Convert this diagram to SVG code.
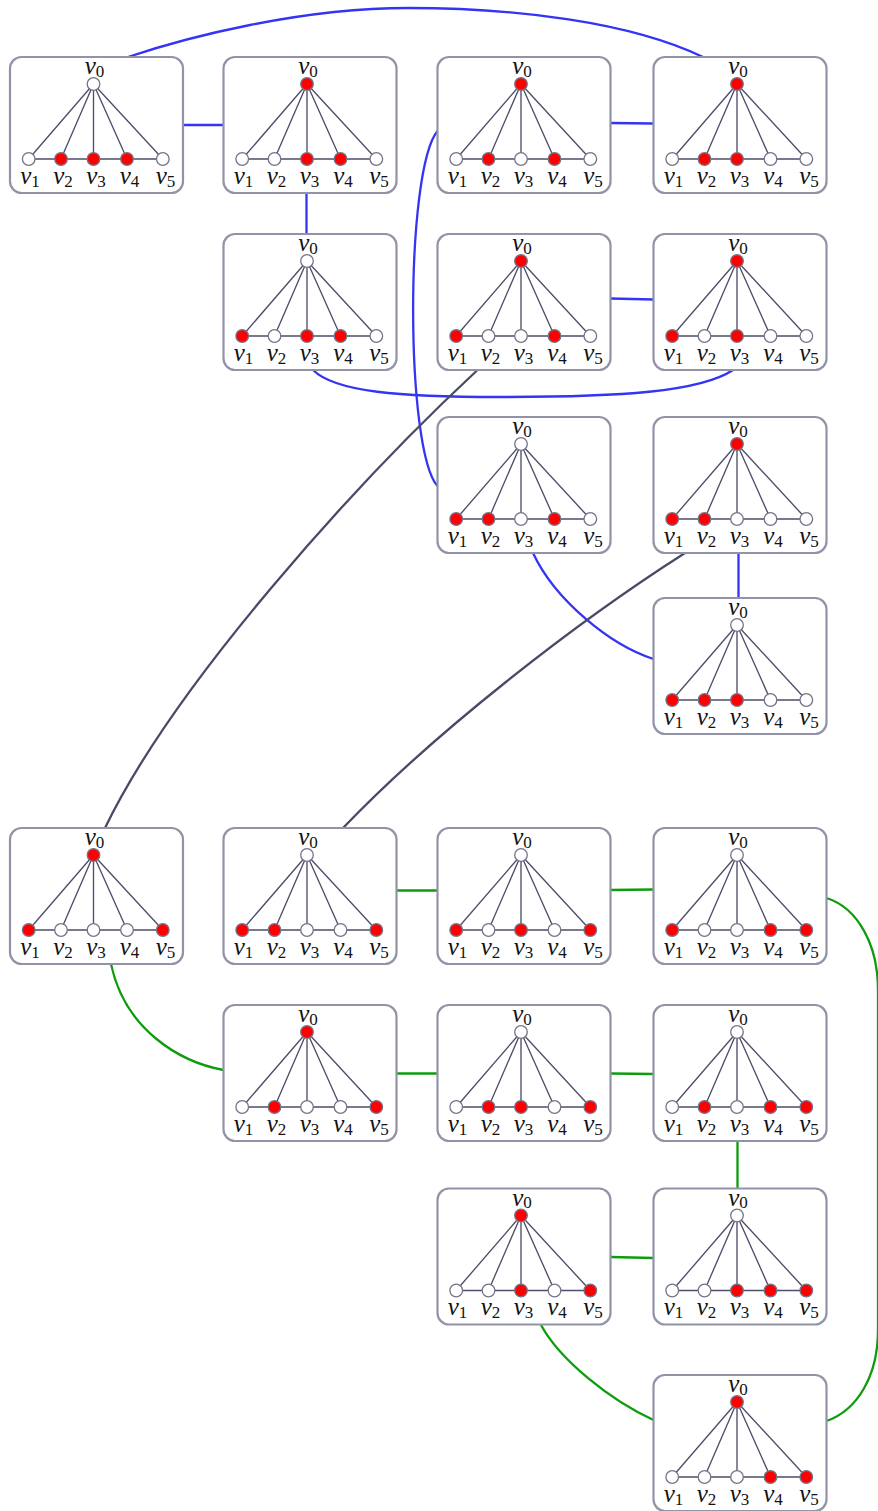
<svg xmlns="http://www.w3.org/2000/svg" xmlns:xlink="http://www.w3.org/1999/xlink" width="878" height="1511" viewBox="0 0 878 1511">
<style>
.box{fill:#fff;stroke:#9393a8;stroke-width:2.2}
.e{stroke:#4e4e6a;stroke-width:1.35;fill:none}
.w{fill:#fff;stroke:#74748a;stroke-width:1.3}
.r{fill:#ff0000;stroke:#74748a;stroke-width:1.3}
.l{font-family:"Liberation Serif","DejaVu Serif",serif;font-style:italic;font-size:25px;fill:#111;text-anchor:middle}
.s{font-style:normal;font-size:17px}
.blue{stroke:#3434f4;stroke-width:2.3;fill:none}
.dark{stroke:#4a4a68;stroke-width:2.3;fill:none}
.green{stroke:#0c9c0c;stroke-width:2.3;fill:none}
</style>
<defs>
<g id="frame">
<rect class="box" x="0" y="0" width="173" height="136" rx="11.5"/>
<path class="e" d="M83.5,27L18.7,102M83.5,27L51,102M83.5,27L83.5,102M83.5,27L117,102M83.5,27L152.8,102M18.7,102H152.8"/>
</g>
</defs>
<rect width="878" height="1511" fill="#fff"/>
<g id="connectors">
<path class="blue" d="M128,57C188,37 300,8 408,8S630,22 703,57"/>
<path class="blue" d="M183,125L223.5,125"/>
<path class="blue" d="M306.5,193L306.5,234"/>
<path class="blue" d="M610.5,123L653.5,123.5"/>
<path class="blue" d="M437.5,131C405,170 405,450 437.5,486"/>
<path class="blue" d="M610.5,298.5L653.5,299.5"/>
<path class="blue" d="M313,370C335,392 400,397 500,397C620,397 700,392 733,370"/>
<path class="blue" d="M533,553C555,600 610,645 653.5,659"/>
<path class="blue" d="M738.5,553L738.5,598"/>
<path class="dark" d="M477,370.5C357,482 175,683 105,828"/>
<path class="dark" d="M685,553C575,623 433,734 343,828"/>
<path class="green" d="M111,964C125,1030 180,1062 223.5,1070"/>
<path class="green" d="M396.5,890.5L437.5,890.5"/>
<path class="green" d="M610.5,890L653.5,889.5"/>
<path class="green" d="M826.5,898C858,908 878,945 878,990L878,1330C878,1375 858,1410 826.5,1421"/>
<path class="green" d="M396.5,1073.5L437.5,1073.5"/>
<path class="green" d="M610.5,1073.5L653.5,1074"/>
<path class="green" d="M737.5,1141L737.5,1188.5"/>
<path class="green" d="M610.5,1257L653.5,1258"/>
<path class="green" d="M541,1325C560,1360 610,1400 653.5,1420"/>
</g>

<g id="nA" transform="translate(10,57)"><use xlink:href="#frame"/>
<circle class="w" cx="83.5" cy="27" r="6.3"/><circle class="w" cx="18.7" cy="102" r="6.3"/><circle class="r" cx="51" cy="102" r="6.3"/><circle class="r" cx="83.5" cy="102" r="6.3"/><circle class="r" cx="117" cy="102" r="6.3"/><circle class="w" cx="152.8" cy="102" r="6.3"/>
<text class="l" x="84.5" y="17">v<tspan class="s" dy="2.5">0</tspan></text><text class="l" x="20" y="126.5">v<tspan class="s" dy="3">1</tspan></text><text class="l" x="53" y="126.5">v<tspan class="s" dy="3">2</tspan></text><text class="l" x="86" y="126.5">v<tspan class="s" dy="3">3</tspan></text><text class="l" x="119.5" y="126.5">v<tspan class="s" dy="3">4</tspan></text><text class="l" x="155.5" y="126.5">v<tspan class="s" dy="3">5</tspan></text></g>

<g id="nB" transform="translate(223.5,57)"><use xlink:href="#frame"/>
<circle class="r" cx="83.5" cy="27" r="6.3"/><circle class="w" cx="18.7" cy="102" r="6.3"/><circle class="w" cx="51" cy="102" r="6.3"/><circle class="r" cx="83.5" cy="102" r="6.3"/><circle class="r" cx="117" cy="102" r="6.3"/><circle class="w" cx="152.8" cy="102" r="6.3"/>
<text class="l" x="84.5" y="17">v<tspan class="s" dy="2.5">0</tspan></text><text class="l" x="20" y="126.5">v<tspan class="s" dy="3">1</tspan></text><text class="l" x="53" y="126.5">v<tspan class="s" dy="3">2</tspan></text><text class="l" x="86" y="126.5">v<tspan class="s" dy="3">3</tspan></text><text class="l" x="119.5" y="126.5">v<tspan class="s" dy="3">4</tspan></text><text class="l" x="155.5" y="126.5">v<tspan class="s" dy="3">5</tspan></text></g>

<g id="nC" transform="translate(437.5,57)"><use xlink:href="#frame"/>
<circle class="r" cx="83.5" cy="27" r="6.3"/><circle class="w" cx="18.7" cy="102" r="6.3"/><circle class="r" cx="51" cy="102" r="6.3"/><circle class="w" cx="83.5" cy="102" r="6.3"/><circle class="r" cx="117" cy="102" r="6.3"/><circle class="w" cx="152.8" cy="102" r="6.3"/>
<text class="l" x="84.5" y="17">v<tspan class="s" dy="2.5">0</tspan></text><text class="l" x="20" y="126.5">v<tspan class="s" dy="3">1</tspan></text><text class="l" x="53" y="126.5">v<tspan class="s" dy="3">2</tspan></text><text class="l" x="86" y="126.5">v<tspan class="s" dy="3">3</tspan></text><text class="l" x="119.5" y="126.5">v<tspan class="s" dy="3">4</tspan></text><text class="l" x="155.5" y="126.5">v<tspan class="s" dy="3">5</tspan></text></g>

<g id="nD" transform="translate(653.5,57)"><use xlink:href="#frame"/>
<circle class="r" cx="83.5" cy="27" r="6.3"/><circle class="w" cx="18.7" cy="102" r="6.3"/><circle class="r" cx="51" cy="102" r="6.3"/><circle class="r" cx="83.5" cy="102" r="6.3"/><circle class="w" cx="117" cy="102" r="6.3"/><circle class="w" cx="152.8" cy="102" r="6.3"/>
<text class="l" x="84.5" y="17">v<tspan class="s" dy="2.5">0</tspan></text><text class="l" x="20" y="126.5">v<tspan class="s" dy="3">1</tspan></text><text class="l" x="53" y="126.5">v<tspan class="s" dy="3">2</tspan></text><text class="l" x="86" y="126.5">v<tspan class="s" dy="3">3</tspan></text><text class="l" x="119.5" y="126.5">v<tspan class="s" dy="3">4</tspan></text><text class="l" x="155.5" y="126.5">v<tspan class="s" dy="3">5</tspan></text></g>

<g id="nE" transform="translate(223.5,234)"><use xlink:href="#frame"/>
<circle class="w" cx="83.5" cy="27" r="6.3"/><circle class="r" cx="18.7" cy="102" r="6.3"/><circle class="w" cx="51" cy="102" r="6.3"/><circle class="r" cx="83.5" cy="102" r="6.3"/><circle class="r" cx="117" cy="102" r="6.3"/><circle class="w" cx="152.8" cy="102" r="6.3"/>
<text class="l" x="84.5" y="17">v<tspan class="s" dy="2.5">0</tspan></text><text class="l" x="20" y="126.5">v<tspan class="s" dy="3">1</tspan></text><text class="l" x="53" y="126.5">v<tspan class="s" dy="3">2</tspan></text><text class="l" x="86" y="126.5">v<tspan class="s" dy="3">3</tspan></text><text class="l" x="119.5" y="126.5">v<tspan class="s" dy="3">4</tspan></text><text class="l" x="155.5" y="126.5">v<tspan class="s" dy="3">5</tspan></text></g>

<g id="nF" transform="translate(437.5,234)"><use xlink:href="#frame"/>
<circle class="r" cx="83.5" cy="27" r="6.3"/><circle class="r" cx="18.7" cy="102" r="6.3"/><circle class="w" cx="51" cy="102" r="6.3"/><circle class="w" cx="83.5" cy="102" r="6.3"/><circle class="r" cx="117" cy="102" r="6.3"/><circle class="w" cx="152.8" cy="102" r="6.3"/>
<text class="l" x="84.5" y="17">v<tspan class="s" dy="2.5">0</tspan></text><text class="l" x="20" y="126.5">v<tspan class="s" dy="3">1</tspan></text><text class="l" x="53" y="126.5">v<tspan class="s" dy="3">2</tspan></text><text class="l" x="86" y="126.5">v<tspan class="s" dy="3">3</tspan></text><text class="l" x="119.5" y="126.5">v<tspan class="s" dy="3">4</tspan></text><text class="l" x="155.5" y="126.5">v<tspan class="s" dy="3">5</tspan></text></g>

<g id="nG" transform="translate(653.5,234)"><use xlink:href="#frame"/>
<circle class="r" cx="83.5" cy="27" r="6.3"/><circle class="r" cx="18.7" cy="102" r="6.3"/><circle class="w" cx="51" cy="102" r="6.3"/><circle class="r" cx="83.5" cy="102" r="6.3"/><circle class="w" cx="117" cy="102" r="6.3"/><circle class="w" cx="152.8" cy="102" r="6.3"/>
<text class="l" x="84.5" y="17">v<tspan class="s" dy="2.5">0</tspan></text><text class="l" x="20" y="126.5">v<tspan class="s" dy="3">1</tspan></text><text class="l" x="53" y="126.5">v<tspan class="s" dy="3">2</tspan></text><text class="l" x="86" y="126.5">v<tspan class="s" dy="3">3</tspan></text><text class="l" x="119.5" y="126.5">v<tspan class="s" dy="3">4</tspan></text><text class="l" x="155.5" y="126.5">v<tspan class="s" dy="3">5</tspan></text></g>

<g id="nH" transform="translate(437.5,417)"><use xlink:href="#frame"/>
<circle class="w" cx="83.5" cy="27" r="6.3"/><circle class="r" cx="18.7" cy="102" r="6.3"/><circle class="r" cx="51" cy="102" r="6.3"/><circle class="w" cx="83.5" cy="102" r="6.3"/><circle class="r" cx="117" cy="102" r="6.3"/><circle class="w" cx="152.8" cy="102" r="6.3"/>
<text class="l" x="84.5" y="17">v<tspan class="s" dy="2.5">0</tspan></text><text class="l" x="20" y="126.5">v<tspan class="s" dy="3">1</tspan></text><text class="l" x="53" y="126.5">v<tspan class="s" dy="3">2</tspan></text><text class="l" x="86" y="126.5">v<tspan class="s" dy="3">3</tspan></text><text class="l" x="119.5" y="126.5">v<tspan class="s" dy="3">4</tspan></text><text class="l" x="155.5" y="126.5">v<tspan class="s" dy="3">5</tspan></text></g>

<g id="nI" transform="translate(653.5,417)"><use xlink:href="#frame"/>
<circle class="r" cx="83.5" cy="27" r="6.3"/><circle class="r" cx="18.7" cy="102" r="6.3"/><circle class="r" cx="51" cy="102" r="6.3"/><circle class="w" cx="83.5" cy="102" r="6.3"/><circle class="w" cx="117" cy="102" r="6.3"/><circle class="w" cx="152.8" cy="102" r="6.3"/>
<text class="l" x="84.5" y="17">v<tspan class="s" dy="2.5">0</tspan></text><text class="l" x="20" y="126.5">v<tspan class="s" dy="3">1</tspan></text><text class="l" x="53" y="126.5">v<tspan class="s" dy="3">2</tspan></text><text class="l" x="86" y="126.5">v<tspan class="s" dy="3">3</tspan></text><text class="l" x="119.5" y="126.5">v<tspan class="s" dy="3">4</tspan></text><text class="l" x="155.5" y="126.5">v<tspan class="s" dy="3">5</tspan></text></g>

<g id="nJ" transform="translate(653.5,598)"><use xlink:href="#frame"/>
<circle class="w" cx="83.5" cy="27" r="6.3"/><circle class="r" cx="18.7" cy="102" r="6.3"/><circle class="r" cx="51" cy="102" r="6.3"/><circle class="r" cx="83.5" cy="102" r="6.3"/><circle class="w" cx="117" cy="102" r="6.3"/><circle class="w" cx="152.8" cy="102" r="6.3"/>
<text class="l" x="84.5" y="17">v<tspan class="s" dy="2.5">0</tspan></text><text class="l" x="20" y="126.5">v<tspan class="s" dy="3">1</tspan></text><text class="l" x="53" y="126.5">v<tspan class="s" dy="3">2</tspan></text><text class="l" x="86" y="126.5">v<tspan class="s" dy="3">3</tspan></text><text class="l" x="119.5" y="126.5">v<tspan class="s" dy="3">4</tspan></text><text class="l" x="155.5" y="126.5">v<tspan class="s" dy="3">5</tspan></text></g>

<g id="nK" transform="translate(10,828)"><use xlink:href="#frame"/>
<circle class="r" cx="83.5" cy="27" r="6.3"/><circle class="r" cx="18.7" cy="102" r="6.3"/><circle class="w" cx="51" cy="102" r="6.3"/><circle class="w" cx="83.5" cy="102" r="6.3"/><circle class="w" cx="117" cy="102" r="6.3"/><circle class="r" cx="152.8" cy="102" r="6.3"/>
<text class="l" x="84.5" y="17">v<tspan class="s" dy="2.5">0</tspan></text><text class="l" x="20" y="126.5">v<tspan class="s" dy="3">1</tspan></text><text class="l" x="53" y="126.5">v<tspan class="s" dy="3">2</tspan></text><text class="l" x="86" y="126.5">v<tspan class="s" dy="3">3</tspan></text><text class="l" x="119.5" y="126.5">v<tspan class="s" dy="3">4</tspan></text><text class="l" x="155.5" y="126.5">v<tspan class="s" dy="3">5</tspan></text></g>

<g id="nL" transform="translate(223.5,828)"><use xlink:href="#frame"/>
<circle class="w" cx="83.5" cy="27" r="6.3"/><circle class="r" cx="18.7" cy="102" r="6.3"/><circle class="r" cx="51" cy="102" r="6.3"/><circle class="w" cx="83.5" cy="102" r="6.3"/><circle class="w" cx="117" cy="102" r="6.3"/><circle class="r" cx="152.8" cy="102" r="6.3"/>
<text class="l" x="84.5" y="17">v<tspan class="s" dy="2.5">0</tspan></text><text class="l" x="20" y="126.5">v<tspan class="s" dy="3">1</tspan></text><text class="l" x="53" y="126.5">v<tspan class="s" dy="3">2</tspan></text><text class="l" x="86" y="126.5">v<tspan class="s" dy="3">3</tspan></text><text class="l" x="119.5" y="126.5">v<tspan class="s" dy="3">4</tspan></text><text class="l" x="155.5" y="126.5">v<tspan class="s" dy="3">5</tspan></text></g>

<g id="nM" transform="translate(437.5,828)"><use xlink:href="#frame"/>
<circle class="w" cx="83.5" cy="27" r="6.3"/><circle class="r" cx="18.7" cy="102" r="6.3"/><circle class="w" cx="51" cy="102" r="6.3"/><circle class="r" cx="83.5" cy="102" r="6.3"/><circle class="w" cx="117" cy="102" r="6.3"/><circle class="r" cx="152.8" cy="102" r="6.3"/>
<text class="l" x="84.5" y="17">v<tspan class="s" dy="2.5">0</tspan></text><text class="l" x="20" y="126.5">v<tspan class="s" dy="3">1</tspan></text><text class="l" x="53" y="126.5">v<tspan class="s" dy="3">2</tspan></text><text class="l" x="86" y="126.5">v<tspan class="s" dy="3">3</tspan></text><text class="l" x="119.5" y="126.5">v<tspan class="s" dy="3">4</tspan></text><text class="l" x="155.5" y="126.5">v<tspan class="s" dy="3">5</tspan></text></g>

<g id="nN" transform="translate(653.5,828)"><use xlink:href="#frame"/>
<circle class="w" cx="83.5" cy="27" r="6.3"/><circle class="r" cx="18.7" cy="102" r="6.3"/><circle class="w" cx="51" cy="102" r="6.3"/><circle class="w" cx="83.5" cy="102" r="6.3"/><circle class="r" cx="117" cy="102" r="6.3"/><circle class="r" cx="152.8" cy="102" r="6.3"/>
<text class="l" x="84.5" y="17">v<tspan class="s" dy="2.5">0</tspan></text><text class="l" x="20" y="126.5">v<tspan class="s" dy="3">1</tspan></text><text class="l" x="53" y="126.5">v<tspan class="s" dy="3">2</tspan></text><text class="l" x="86" y="126.5">v<tspan class="s" dy="3">3</tspan></text><text class="l" x="119.5" y="126.5">v<tspan class="s" dy="3">4</tspan></text><text class="l" x="155.5" y="126.5">v<tspan class="s" dy="3">5</tspan></text></g>

<g id="nO" transform="translate(223.5,1005)"><use xlink:href="#frame"/>
<circle class="r" cx="83.5" cy="27" r="6.3"/><circle class="w" cx="18.7" cy="102" r="6.3"/><circle class="r" cx="51" cy="102" r="6.3"/><circle class="w" cx="83.5" cy="102" r="6.3"/><circle class="w" cx="117" cy="102" r="6.3"/><circle class="r" cx="152.8" cy="102" r="6.3"/>
<text class="l" x="84.5" y="17">v<tspan class="s" dy="2.5">0</tspan></text><text class="l" x="20" y="126.5">v<tspan class="s" dy="3">1</tspan></text><text class="l" x="53" y="126.5">v<tspan class="s" dy="3">2</tspan></text><text class="l" x="86" y="126.5">v<tspan class="s" dy="3">3</tspan></text><text class="l" x="119.5" y="126.5">v<tspan class="s" dy="3">4</tspan></text><text class="l" x="155.5" y="126.5">v<tspan class="s" dy="3">5</tspan></text></g>

<g id="nP" transform="translate(437.5,1005)"><use xlink:href="#frame"/>
<circle class="w" cx="83.5" cy="27" r="6.3"/><circle class="w" cx="18.7" cy="102" r="6.3"/><circle class="r" cx="51" cy="102" r="6.3"/><circle class="r" cx="83.5" cy="102" r="6.3"/><circle class="w" cx="117" cy="102" r="6.3"/><circle class="r" cx="152.8" cy="102" r="6.3"/>
<text class="l" x="84.5" y="17">v<tspan class="s" dy="2.5">0</tspan></text><text class="l" x="20" y="126.5">v<tspan class="s" dy="3">1</tspan></text><text class="l" x="53" y="126.5">v<tspan class="s" dy="3">2</tspan></text><text class="l" x="86" y="126.5">v<tspan class="s" dy="3">3</tspan></text><text class="l" x="119.5" y="126.5">v<tspan class="s" dy="3">4</tspan></text><text class="l" x="155.5" y="126.5">v<tspan class="s" dy="3">5</tspan></text></g>

<g id="nQ" transform="translate(653.5,1005)"><use xlink:href="#frame"/>
<circle class="w" cx="83.5" cy="27" r="6.3"/><circle class="w" cx="18.7" cy="102" r="6.3"/><circle class="r" cx="51" cy="102" r="6.3"/><circle class="w" cx="83.5" cy="102" r="6.3"/><circle class="r" cx="117" cy="102" r="6.3"/><circle class="r" cx="152.8" cy="102" r="6.3"/>
<text class="l" x="84.5" y="17">v<tspan class="s" dy="2.5">0</tspan></text><text class="l" x="20" y="126.5">v<tspan class="s" dy="3">1</tspan></text><text class="l" x="53" y="126.5">v<tspan class="s" dy="3">2</tspan></text><text class="l" x="86" y="126.5">v<tspan class="s" dy="3">3</tspan></text><text class="l" x="119.5" y="126.5">v<tspan class="s" dy="3">4</tspan></text><text class="l" x="155.5" y="126.5">v<tspan class="s" dy="3">5</tspan></text></g>

<g id="nR" transform="translate(437.5,1188.5)"><use xlink:href="#frame"/>
<circle class="r" cx="83.5" cy="27" r="6.3"/><circle class="w" cx="18.7" cy="102" r="6.3"/><circle class="w" cx="51" cy="102" r="6.3"/><circle class="r" cx="83.5" cy="102" r="6.3"/><circle class="w" cx="117" cy="102" r="6.3"/><circle class="r" cx="152.8" cy="102" r="6.3"/>
<text class="l" x="84.5" y="17">v<tspan class="s" dy="2.5">0</tspan></text><text class="l" x="20" y="126.5">v<tspan class="s" dy="3">1</tspan></text><text class="l" x="53" y="126.5">v<tspan class="s" dy="3">2</tspan></text><text class="l" x="86" y="126.5">v<tspan class="s" dy="3">3</tspan></text><text class="l" x="119.5" y="126.5">v<tspan class="s" dy="3">4</tspan></text><text class="l" x="155.5" y="126.5">v<tspan class="s" dy="3">5</tspan></text></g>

<g id="nS" transform="translate(653.5,1188.5)"><use xlink:href="#frame"/>
<circle class="w" cx="83.5" cy="27" r="6.3"/><circle class="w" cx="18.7" cy="102" r="6.3"/><circle class="w" cx="51" cy="102" r="6.3"/><circle class="r" cx="83.5" cy="102" r="6.3"/><circle class="r" cx="117" cy="102" r="6.3"/><circle class="r" cx="152.8" cy="102" r="6.3"/>
<text class="l" x="84.5" y="17">v<tspan class="s" dy="2.5">0</tspan></text><text class="l" x="20" y="126.5">v<tspan class="s" dy="3">1</tspan></text><text class="l" x="53" y="126.5">v<tspan class="s" dy="3">2</tspan></text><text class="l" x="86" y="126.5">v<tspan class="s" dy="3">3</tspan></text><text class="l" x="119.5" y="126.5">v<tspan class="s" dy="3">4</tspan></text><text class="l" x="155.5" y="126.5">v<tspan class="s" dy="3">5</tspan></text></g>

<g id="nT" transform="translate(653.5,1375)"><use xlink:href="#frame"/>
<circle class="r" cx="83.5" cy="27" r="6.3"/><circle class="w" cx="18.7" cy="102" r="6.3"/><circle class="w" cx="51" cy="102" r="6.3"/><circle class="w" cx="83.5" cy="102" r="6.3"/><circle class="r" cx="117" cy="102" r="6.3"/><circle class="r" cx="152.8" cy="102" r="6.3"/>
<text class="l" x="84.5" y="17">v<tspan class="s" dy="2.5">0</tspan></text><text class="l" x="20" y="126.5">v<tspan class="s" dy="3">1</tspan></text><text class="l" x="53" y="126.5">v<tspan class="s" dy="3">2</tspan></text><text class="l" x="86" y="126.5">v<tspan class="s" dy="3">3</tspan></text><text class="l" x="119.5" y="126.5">v<tspan class="s" dy="3">4</tspan></text><text class="l" x="155.5" y="126.5">v<tspan class="s" dy="3">5</tspan></text></g>
</svg>
